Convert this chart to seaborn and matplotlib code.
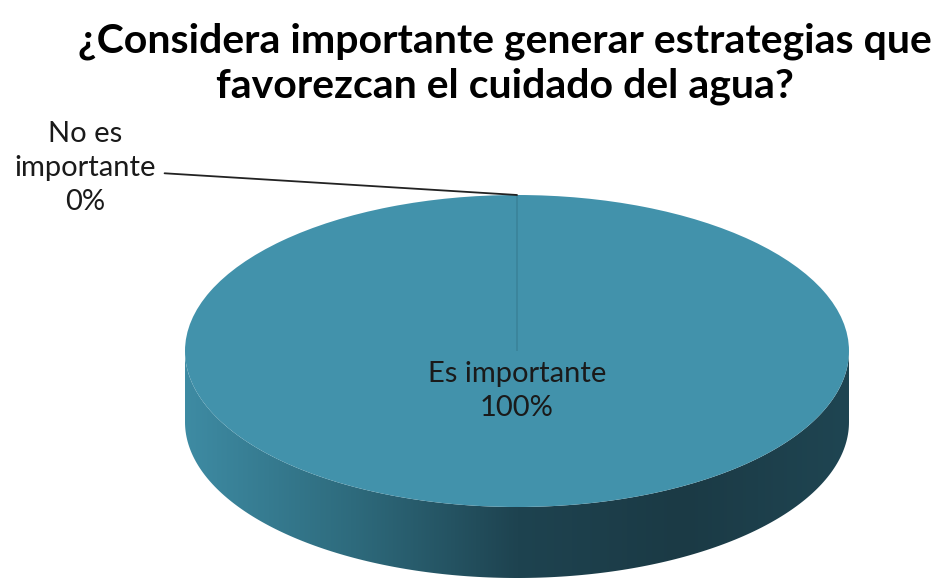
import numpy as np
import matplotlib.pyplot as plt
import seaborn as sns
from matplotlib.transforms import Affine2D
from matplotlib.patches import Polygon
from matplotlib.colors import LinearSegmentedColormap

# Data
categories = ["Es importante", "No es importante"]
values = [100, 0]
label_names = ["Es importante", "No es\nimportante"]
title = "¿Considera importante generar estrategias que\nfavorezcan el cuidado del agua?"

sns.set_theme(style="white")
plt.rcParams['font.family'] = ['Lato', 'DejaVu Sans']

top_color = "#4292AB"
side_cmap = LinearSegmentedColormap.from_list(
    "side", ["#3E8BA3", "#2E6B7D", "#1E4350", "#1B3A45", "#1F4552"])

fig = plt.figure(figsize=(9.41, 5.8), dpi=100)
ax = fig.add_axes([0, 0, 1, 1])

# pie geometry (pixel-like units, y up)
cx, cy, rx, ry, depth = 517, 229, 332, 156, 71

# front side of the 3D disc with a horizontal gradient
t = np.linspace(np.pi, 2 * np.pi, 200)
xs = cx + rx * np.cos(t)
ys = cy + ry * np.sin(t)
side = np.concatenate([np.column_stack([xs, ys]),
                       np.column_stack([xs[::-1], ys[::-1] - depth])])
poly = Polygon(side, closed=True, facecolor='none', edgecolor='none')
ax.add_patch(poly)
grad = np.linspace(0, 1, 256).reshape(1, -1)
im = ax.imshow(grad, cmap=side_cmap, extent=[cx - rx, cx + rx, cy - ry - depth, cy],
               aspect='auto', zorder=1)
im.set_clip_path(poly)

# top face
wedges, _ = ax.pie(values, startangle=90, counterclock=False, radius=rx,
                   center=(cx, cy), colors=[top_color, top_color],
                   wedgeprops=dict(linewidth=0))
squash = Affine2D().translate(-cx, -cy).scale(1, ry / rx).translate(cx, cy) + ax.transData
for w in wedges:
    w.set_transform(squash)
    w.set_zorder(2)
wedges[1].set_edgecolor("#3A8399")
wedges[1].set_linewidth(1.2)

ax.set_aspect('auto')
ax.set_xlim(0, 941)
ax.set_ylim(0, 580)
ax.axis('off')

# data labels
ax.text(cx, 189, f"{label_names[0]}\n{values[0]}%", ha='center', va='center',
        fontsize=21, linespacing=1.4, color="#1a1a1a", zorder=3)
ax.annotate(f"{label_names[1]}\n{values[1]}%", xy=(cx, cy + ry), xytext=(85, 412),
            ha='center', va='center', fontsize=21, linespacing=1.4, color="#1a1a1a",
            arrowprops=dict(arrowstyle='-', color='#222222', lw=1.3,
                            relpos=(1.0, 0.45), shrinkA=4, shrinkB=0), zorder=3)

fig.text(0.537, 1 - 64 / 580, title, ha='center', va='center', fontsize=29.5,
         fontweight='bold', linespacing=1.25, color='black')

fig.savefig("out.png", dpi=100)
